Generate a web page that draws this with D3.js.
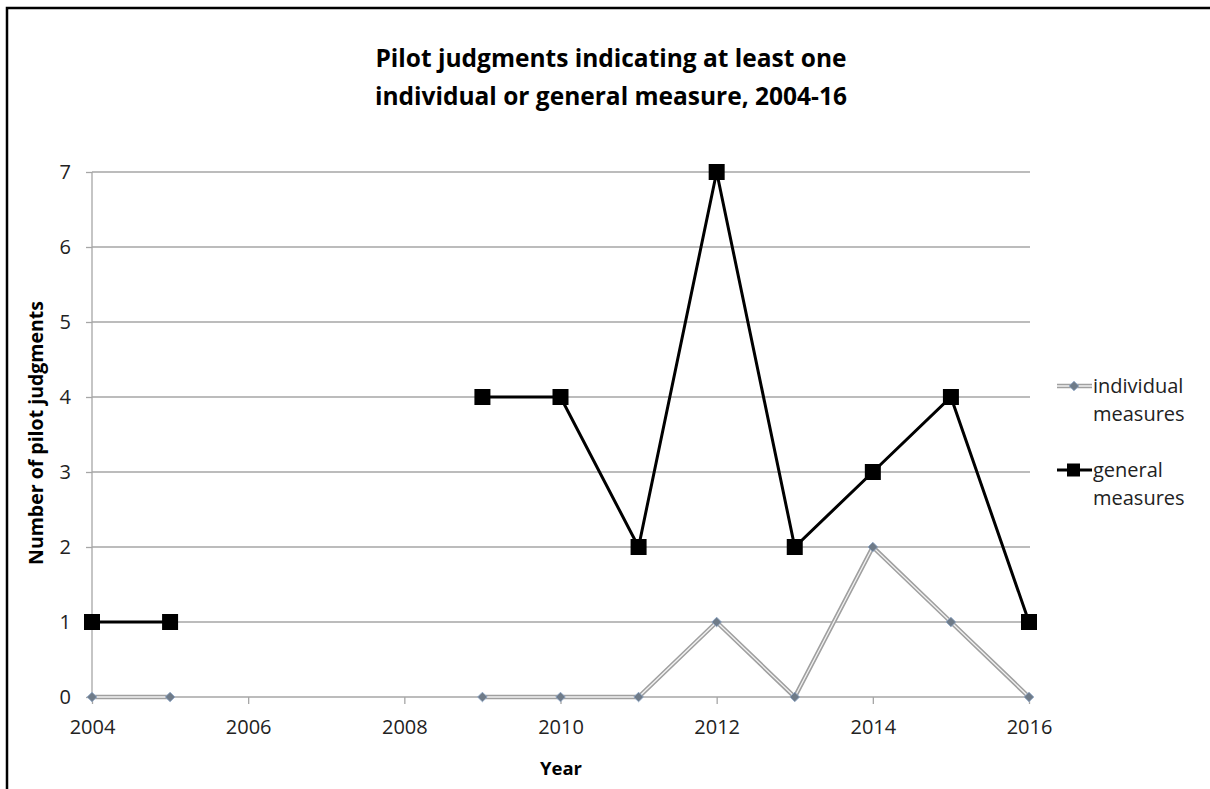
<!DOCTYPE html>
<html>
<head>
<meta charset="utf-8">
<script src="https://cdn.jsdelivr.net/npm/d3@7"></script>
<style>
  html, body { margin: 0; padding: 0; background: #fff; }
  svg { display: block; font-family: "Open Sans", Lato, sans-serif; }
</style>
</head>
<body>
<svg id="chart" width="1210" height="789"></svg>
<script>
// Years observed and the count of pilot judgments per year (no data 2006-2008)
const years = [2004, 2005, 2006, 2007, 2008, 2009, 2010, 2011, 2012, 2013, 2014, 2015, 2016];
const individualMeasures = [0, 0, null, null, null, 0, 0, 0, 1, 0, 2, 1, 0];
const generalMeasures    = [1, 1, null, null, null, 4, 4, 2, 7, 2, 3, 4, 1];
const xTicks = [2004, 2006, 2008, 2010, 2012, 2014, 2016];
const yTicks = [0, 1, 2, 3, 4, 5, 6, 7];
const titleLines = ["Pilot judgments indicating at least one", "individual or general measure, 2004-16"];
const seriesNames = [["individual", "measures"], ["general", "measures"]];

const svg = d3.select("#chart");
const FONT = "'Open Sans', Lato, sans-serif";

// outer frame
svg.append("path")
  .attr("d", "M7,789 V8 H1210")
  .attr("fill", "none").attr("stroke", "#000").attr("stroke-width", 2.5);

const plot = { left: 92, right: 1029, top: 172, bottom: 697 };
const x = d3.scaleLinear().domain([2004, 2016]).range([plot.left, plot.right]);
const y = d3.scaleLinear().domain([0, 7]).range([plot.bottom, plot.top]);

// horizontal gridlines
svg.append("g").selectAll("line").data(yTicks.filter(d => d > 0)).join("line")
  .attr("x1", plot.left).attr("x2", plot.right + 1)
  .attr("y1", d => y(d)).attr("y2", d => y(d))
  .attr("stroke", "#a6a6a6").attr("stroke-width", 1.3);

// y axis
const yAxis = svg.append("g").attr("transform", `translate(${plot.left},0)`)
  .call(d3.axisLeft(y).tickValues(yTicks).tickSize(6).tickPadding(15).tickFormat(d3.format("d")));
yAxis.select(".domain").attr("stroke", "#a6a6a6").attr("stroke-width", 1.3).attr("d", `M0,${plot.top}V${plot.bottom}`);
yAxis.selectAll(".tick line").attr("stroke", "#a6a6a6").attr("stroke-width", 1.3);
yAxis.selectAll(".tick text").attr("font-size", 20).attr("fill", "#222").attr("font-family", FONT);

// x axis
const xAxis = svg.append("g").attr("transform", `translate(0,${plot.bottom})`)
  .call(d3.axisBottom(x).tickValues(xTicks).tickSize(7).tickPadding(16).tickFormat(d3.format("d")));
xAxis.select(".domain").attr("stroke", "#a6a6a6").attr("stroke-width", 1.3).attr("d", `M${plot.left},0H${plot.right + 1}`);
xAxis.selectAll(".tick line").attr("stroke", "#a6a6a6").attr("stroke-width", 1.3);
xAxis.selectAll(".tick text").attr("font-size", 20).attr("fill", "#222").attr("font-family", FONT);

const line = d3.line()
  .defined(d => d[1] !== null)
  .x(d => x(d[0])).y(d => y(d[1]));

const indData = years.map((yr, i) => [yr, individualMeasures[i]]);
const genData = years.map((yr, i) => [yr, generalMeasures[i]]);

// individual measures: double grey line with diamond markers
svg.append("path").datum(indData).attr("d", line)
  .attr("fill", "none").attr("stroke", "#a0a0a0").attr("stroke-width", 4.5).attr("stroke-linejoin", "miter");
svg.append("path").datum(indData).attr("d", line)
  .attr("fill", "none").attr("stroke", "#f2f2f2").attr("stroke-width", 1.3).attr("stroke-linejoin", "miter");
const diamond = d3.symbol().type(d3.symbolSquare).size(46);
svg.append("g").selectAll("path").data(indData.filter(d => d[1] !== null)).join("path")
  .attr("d", diamond)
  .attr("transform", d => `translate(${x(d[0])},${y(d[1])}) rotate(45)`)
  .attr("fill", "#6f7b88").attr("stroke", "#8aa3c4").attr("stroke-width", 0.8);

// general measures: thick black line with square markers
svg.append("path").datum(genData).attr("d", line)
  .attr("fill", "none").attr("stroke", "#000").attr("stroke-width", 3).attr("stroke-linejoin", "miter");
svg.append("g").selectAll("rect").data(genData.filter(d => d[1] !== null)).join("rect")
  .attr("x", d => x(d[0]) - 8).attr("y", d => y(d[1]) - 8)
  .attr("width", 16).attr("height", 16).attr("fill", "#000");

// title
svg.append("text").attr("x", 611).attr("y", 0).attr("text-anchor", "middle")
  .attr("font-size", 24.5).attr("font-weight", "bold").attr("fill", "#000")
  .selectAll("tspan").data(titleLines).join("tspan")
  .attr("x", 611).attr("y", (d, i) => 67 + i * 38).text(d => d);

// axis titles
svg.append("text").attr("x", 561).attr("y", 775).attr("text-anchor", "middle")
  .attr("font-size", 18.5).attr("font-weight", "bold").text("Year");
svg.append("text").attr("transform", "translate(43,433) rotate(-90)").attr("text-anchor", "middle")
  .attr("font-size", 19.5).attr("font-weight", "bold").text("Number of pilot judgments");

// legend
const lg = svg.append("g");
const ly1 = 386, ly2 = 470;
lg.append("line").attr("x1", 1057).attr("x2", 1092).attr("y1", ly1).attr("y2", ly1)
  .attr("stroke", "#a0a0a0").attr("stroke-width", 4.5);
lg.append("line").attr("x1", 1057).attr("x2", 1092).attr("y1", ly1).attr("y2", ly1)
  .attr("stroke", "#f2f2f2").attr("stroke-width", 1.3);
lg.append("path").attr("d", diamond).attr("transform", `translate(1074,${ly1}) rotate(45)`)
  .attr("fill", "#6f7b88").attr("stroke", "#8aa3c4").attr("stroke-width", 0.8);
lg.append("line").attr("x1", 1057).attr("x2", 1092).attr("y1", ly2).attr("y2", ly2)
  .attr("stroke", "#000").attr("stroke-width", 3);
lg.append("rect").attr("x", 1067).attr("y", ly2 - 6.5).attr("width", 13).attr("height", 13).attr("fill", "#000");

[ly1, ly2].forEach((ly, k) => {
  lg.append("text").attr("font-size", 20).attr("fill", "#222")
    .selectAll("tspan").data(seriesNames[k]).join("tspan")
    .attr("x", 1093).attr("y", (d, i) => ly + 7 + i * 28).text(d => d);
});
</script>
</body>
</html>
